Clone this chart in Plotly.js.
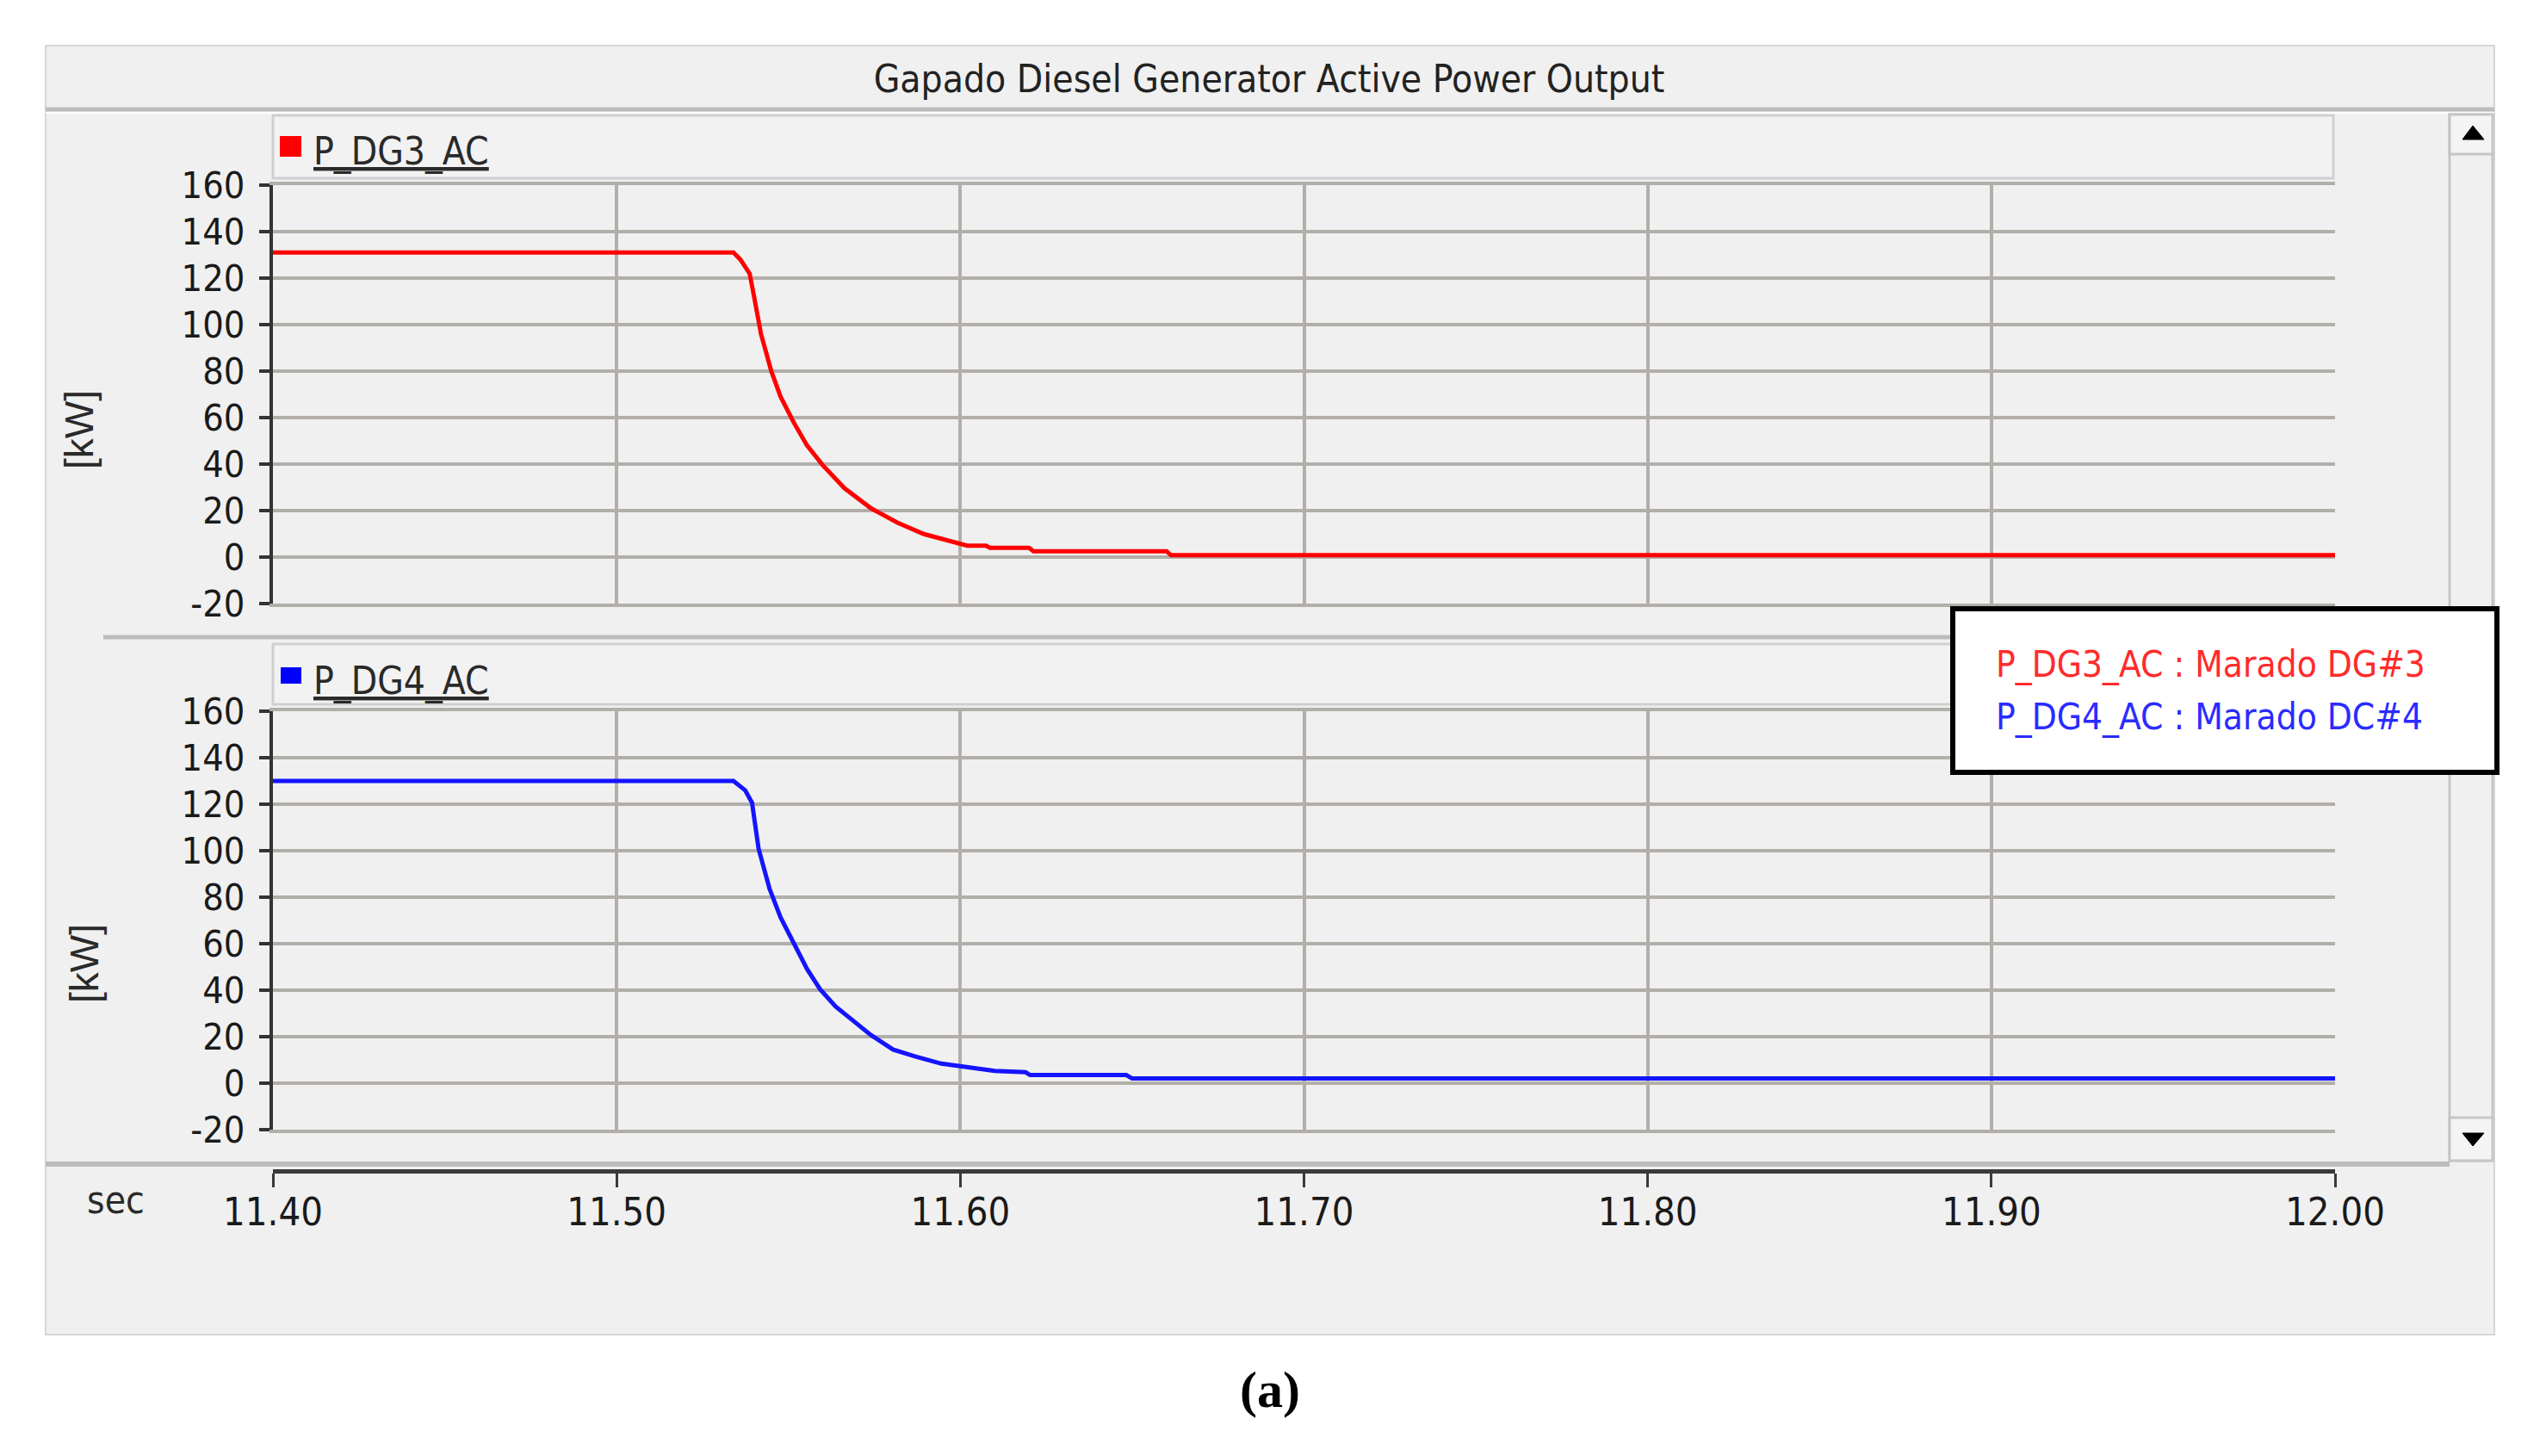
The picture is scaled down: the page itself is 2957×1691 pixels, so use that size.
<!DOCTYPE html>
<html>
<head>
<meta charset="utf-8">
<script src="https://cdn.plot.ly/plotly-3.0.1.min.js"></script>
<style>html,body{margin:0;padding:0;background:#fff;}#chart{width:2957px;height:1691px;}</style>
</head>
<body>
<div id="chart"></div>
<script>
// ---------------- data ----------------
var time_dg3 = [11.400, 11.534, 11.536, 11.5387, 11.540, 11.542, 11.545, 11.5477, 11.5515, 11.5554, 11.560, 11.5663, 11.574, 11.5817, 11.5894, 11.597, 11.602, 11.6075, 11.6086, 11.620, 11.6213, 11.660, 11.6613, 12.000];
var p_dg3    = [131,    131,    128,    122,     112,    96,     80,     69,      58,      48,      39.5,   29.6,    21,     14.8,    9.9,     6.8,    4.9,    4.9,     4.0,     4.0,    2.5,     2.5,    0.8,     0.8];

var time_dg4 = [11.400, 11.534, 11.5374, 11.5394, 11.5413, 11.5445, 11.5477, 11.5515, 11.5554, 11.5592, 11.5637, 11.5688, 11.574, 11.5804, 11.5868, 11.5945, 11.6022, 11.610, 11.619, 11.6203, 11.6483, 11.650, 12.000];
var p_dg4    = [130,    130,    126,     120.6,   100.9,   83.6,    71.3,    60.2,    49.1,    40.4,    33,      26.9,    20.7,   14.5,    11.5,    8.4,     6.9,     5.3,    4.7,    3.5,     3.5,     2.0,    2.0];

var xTickVals = [11.4, 11.5, 11.6, 11.7, 11.8, 11.9, 12.0];
var xTickText = ['11.40', '11.50', '11.60', '11.70', '11.80', '11.90', '12.00'];
var yTickVals = [-20, 0, 20, 40, 60, 80, 100, 120, 140, 160];
var yTickText = ['-20', '0', '20', '40', '60', '80', '100', '120', '140', '160'];

var chartTitle = 'Gapado Diesel Generator Active Power Output';
var seriesNames = ['P_DG3_AC', 'P_DG4_AC'];
var legendLabels = ['P_DG3_AC : Marado DG#3', 'P_DG4_AC : Marado DC#4'];
var yUnit = '[kW]';
var xUnit = 'sec';
var caption = '(a)';

// ---------------- layout helpers (pixel -> paper) ----------------
var W = 2957, H = 1691;
function px(x) { return x / W; }
function py(y) { return 1 - y / H; }
function rect(x0, y0, x1, y1, fill, line, lw) {
  return {type: 'rect', xref: 'paper', yref: 'paper', x0: px(x0), x1: px(x1), y0: py(y1), y1: py(y0),
          fillcolor: fill, line: {color: line || 'rgba(0,0,0,0)', width: lw || 0}, layer: 'below'};
}
function hline(x0, x1, y, color, w, layer) {
  return {type: 'line', xref: 'paper', yref: 'paper', x0: px(x0), x1: px(x1), y0: py(y), y1: py(y),
          line: {color: color, width: w}, layer: layer || 'below'};
}
function tri(pts, color) {
  var d = 'M ' + pts.map(function (p) { return px(p[0]) + ' ' + py(p[1]); }).join(' L ') + ' Z';
  return {type: 'path', xref: 'paper', yref: 'paper', path: d, fillcolor: color, line: {color: color, width: 1}, layer: 'above'};
}

var NARROW = '"DejaVu Sans Condensed", "Liberation Sans Narrow", "Liberation Sans", sans-serif';
var SANS = '"Liberation Sans", Arial, sans-serif';
var GRID = '#b2aeaa';
var AXIS = '#333333';

var plotX0 = 317, plotX1 = 2712;
var top0 = 215, top1 = 701;      // y pixel for 160 and -20 (top panel)
var bot0 = 826, bot1 = 1312;     // bottom panel
var xAxisY = 1360;

var traces = [
  {x: time_dg3, y: p_dg3, xaxis: 'x', yaxis: 'y', type: 'scatter', mode: 'lines', name: seriesNames[0],
   line: {color: '#ff0000', width: 5}, showlegend: false, hoverinfo: 'x+y'},
  {x: time_dg4, y: p_dg4, xaxis: 'x2', yaxis: 'y2', type: 'scatter', mode: 'lines', name: seriesNames[1],
   line: {color: '#1414ff', width: 5}, showlegend: false, hoverinfo: 'x+y'},
  {x: [xTickVals[0]], y: [null], xaxis: 'x3', yaxis: 'y2', type: 'scatter', mode: 'lines', showlegend: false, hoverinfo: 'skip'}
];

function yAxisCfg(domTop, domBot) {
  return {
    domain: [py(domBot), py(domTop)], range: [-20, 160], fixedrange: true,
    tickmode: 'array', tickvals: yTickVals, ticktext: yTickText,
    showline: true, linecolor: AXIS, linewidth: 4,
    ticks: 'outside', ticklen: 12, tickwidth: 4, tickcolor: AXIS,
    showgrid: true, gridcolor: GRID, gridwidth: 4, zeroline: false,
    tickfont: {family: NARROW, size: 43, color: '#1a1a1a'}, ticklabelstandoff: 8,
    automargin: false
  };
}
function xAxisCfg(anchor) {
  return {
    domain: [px(plotX0), px(plotX1)], range: [11.4, 12.0], anchor: anchor, fixedrange: true,
    tickmode: 'array', tickvals: xTickVals, ticktext: xTickText,
    showticklabels: false, ticks: '',
    showline: true, mirror: true, linecolor: GRID, linewidth: 4,
    showgrid: true, gridcolor: GRID, gridwidth: 4, zeroline: false, automargin: false
  };
}

var shapes = [
  // window panel
  rect(53, 53, 2897, 1550, '#f0f0f0', '#d6d6d6', 2),
  // title separator
  hline(53, 2897, 127, '#bcbcbc', 5),
  hline(53, 2897, 131, '#ffffff', 2),
  // header bars
  rect(317, 134, 2710, 207, '#f2f2f2', '#cfcfcf', 3),
  rect(317, 748, 2710, 818, '#f2f2f2', '#cfcfcf', 3),
  // panel separators
  hline(120, 2845, 740, '#bcbcbc', 5),
  hline(53, 2845, 1352, '#bcbcbc', 6),
  // scrollbar
  rect(2845, 133, 2895, 1348, '#f0f0f0', '#c6c6c6', 3),
  rect(2845, 133, 2895, 179, '#f4f4f4', '#c6c6c6', 3),
  rect(2845, 1298, 2895, 1348, '#f4f4f4', '#c6c6c6', 3),
  tri([[2860, 162], [2872, 146], [2885, 162]], '#000000'),
  tri([[2860, 1316], [2885, 1316], [2872, 1331]], '#000000'),
  // header legend markers
  {type: 'rect', xref: 'paper', yref: 'paper', x0: px(325), x1: px(350), y0: py(182), y1: py(158), fillcolor: '#ff0000', line: {width: 0}, layer: 'above'},
  {type: 'rect', xref: 'paper', yref: 'paper', x0: px(326), x1: px(350), y0: py(794), y1: py(775), fillcolor: '#0000ff', line: {width: 0}, layer: 'above'},
  // legend box
  {type: 'rect', xref: 'paper', yref: 'paper', x0: px(2268), x1: px(2900), y0: py(897), y1: py(707), fillcolor: '#ffffff', line: {color: '#000000', width: 6}, layer: 'above'}
];

var annotations = [
  {text: '<u>' + seriesNames[0] + '</u>', xref: 'paper', yref: 'paper', x: px(362), y: py(176), xanchor: 'left', yanchor: 'middle', showarrow: false,
   font: {family: NARROW, size: 44, color: '#2a2a2a'}},
  {text: '<u>' + seriesNames[1] + '</u>', xref: 'paper', yref: 'paper', x: px(362), y: py(791), xanchor: 'left', yanchor: 'middle', showarrow: false,
   font: {family: NARROW, size: 44, color: '#2a2a2a'}},
  {text: yUnit, xref: 'paper', yref: 'paper', x: px(92), y: py(499), textangle: -90, xanchor: 'center', yanchor: 'middle', showarrow: false,
   font: {family: SANS, size: 46, color: '#2a2a2a'}},
  {text: yUnit, xref: 'paper', yref: 'paper', x: px(98), y: py(1119), textangle: -90, xanchor: 'center', yanchor: 'middle', showarrow: false,
   font: {family: SANS, size: 46, color: '#2a2a2a'}},
  {text: xUnit, xref: 'paper', yref: 'paper', x: px(134), y: py(1393), xanchor: 'center', yanchor: 'middle', showarrow: false,
   font: {family: NARROW, size: 44, color: '#2a2a2a'}},
  {text: legendLabels[0], xref: 'paper', yref: 'paper', x: px(2316), y: py(772), xanchor: 'left', yanchor: 'middle', showarrow: false,
   font: {family: NARROW, size: 42, color: '#ff2b2b'}},
  {text: legendLabels[1], xref: 'paper', yref: 'paper', x: px(2316), y: py(832), xanchor: 'left', yanchor: 'middle', showarrow: false,
   font: {family: NARROW, size: 42, color: '#2b2bff'}},
  {text: '<b>' + caption + '</b>', xref: 'paper', yref: 'paper', x: px(1475), y: py(1614), xanchor: 'center', yanchor: 'middle', showarrow: false,
   font: {family: '"Liberation Serif", "Times New Roman", serif', size: 60, color: '#000000'}}
];

var layout = {
  width: W, height: H,
  margin: {l: 0, r: 0, t: 0, b: 0, pad: 0},
  paper_bgcolor: '#ffffff', plot_bgcolor: '#ffffff',
  showlegend: false,
  title: {text: chartTitle, x: px(1474), y: py(92), xref: 'paper', yref: 'paper', xanchor: 'center', yanchor: 'middle',
          font: {family: NARROW, size: 44, color: '#222222'}},
  xaxis: xAxisCfg('y'),
  xaxis2: xAxisCfg('y2'),
  xaxis3: {
    overlaying: 'x2', anchor: 'free', position: py(xAxisY), side: 'bottom', range: [11.4, 12.0], fixedrange: true,
    tickmode: 'array', tickvals: xTickVals, ticktext: xTickText,
    showline: true, linecolor: '#3a3a3a', linewidth: 5,
    ticks: 'outside', ticklen: 16, tickwidth: 3, tickcolor: '#3a3a3a',
    showgrid: false, zeroline: false, ticklabelstandoff: -10,
    tickfont: {family: NARROW, size: 45, color: '#1a1a1a'}, automargin: false
  },
  yaxis: yAxisCfg(top0, top1),
  yaxis2: yAxisCfg(bot0, bot1),
  shapes: shapes,
  annotations: annotations
};

Plotly.newPlot('chart', traces, layout, {staticPlot: true, displayModeBar: false});
</script>
</body>
</html>
